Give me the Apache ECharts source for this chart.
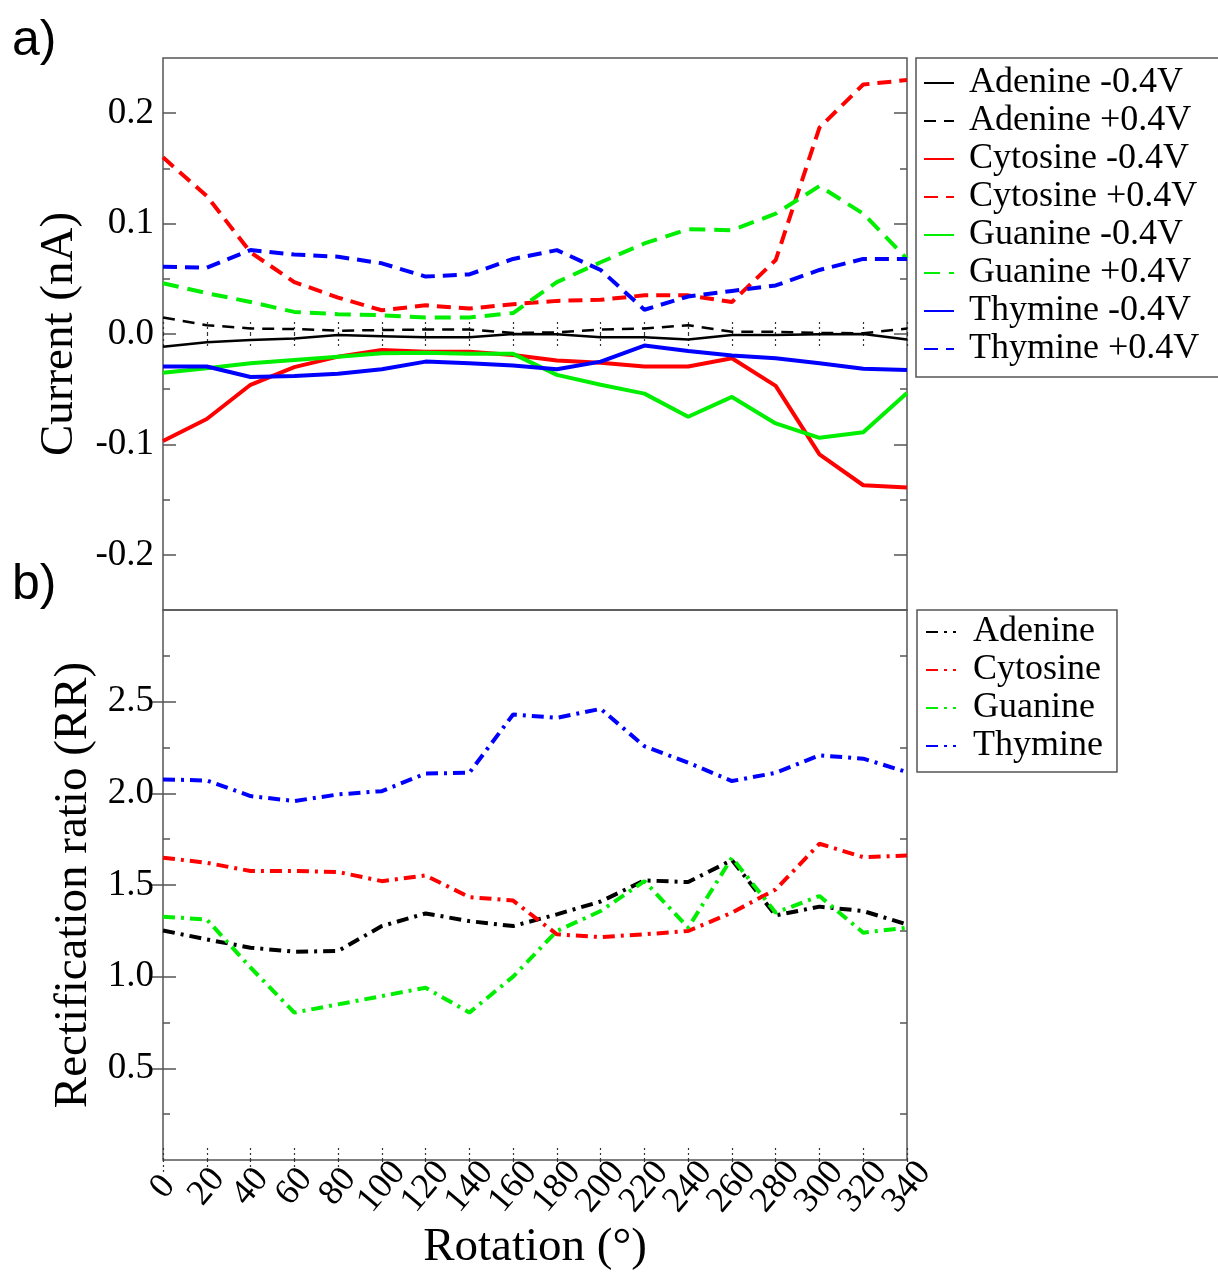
<!DOCTYPE html>
<html>
<head>
<meta charset="utf-8">
<script src="https://cdn.jsdelivr.net/npm/echarts@6/dist/echarts.min.js"></script>
<style>
  html, body { margin: 0; padding: 0; background: #fff; }
  #chart { width: 1218px; height: 1272px; }
</style>
</head>
<body>
<div id="chart"></div>
<script>
// ---- Data ----
const rotation = [0, 20, 40, 60, 80, 100, 120, 140, 160, 180, 200, 220, 240, 260, 280, 300, 320, 340];

// Panel a) Current (nA)
const adenineNeg  = [-0.0115, -0.0075, -0.0054, -0.004, -0.001, -0.002, -0.003, -0.003, 0.0, -0.0003, -0.003, -0.003, -0.005, -0.001, -0.001, -0.0003, 0.0, -0.005];
const adeninePos  = [0.015, 0.008, 0.005, 0.0045, 0.003, 0.0036, 0.004, 0.004, 0.001, 0.0015, 0.004, 0.005, 0.008, 0.002, 0.002, 0.001, 0.0006, 0.005];
const cytosineNeg = [-0.097, -0.077, -0.046, -0.030, -0.0205, -0.0145, -0.016, -0.016, -0.019, -0.024, -0.026, -0.0295, -0.0295, -0.022, -0.047, -0.109, -0.137, -0.139];
const cytosinePos = [0.160, 0.125, 0.074, 0.047, 0.033, 0.0215, 0.026, 0.023, 0.027, 0.030, 0.031, 0.035, 0.035, 0.029, 0.067, 0.187, 0.226, 0.230];
const guanineNeg  = [-0.035, -0.031, -0.0265, -0.0235, -0.0205, -0.0175, -0.017, -0.018, -0.018, -0.037, -0.046, -0.054, -0.075, -0.057, -0.081, -0.094, -0.089, -0.0535];
const guaninePos  = [0.046, 0.037, 0.029, 0.020, 0.018, 0.017, 0.015, 0.015, 0.019, 0.047, 0.065, 0.082, 0.095, 0.094, 0.109, 0.134, 0.109, 0.068];
const thymineNeg  = [-0.0295, -0.0295, -0.039, -0.038, -0.036, -0.032, -0.025, -0.0265, -0.0285, -0.032, -0.025, -0.0105, -0.0153, -0.0195, -0.022, -0.0265, -0.0315, -0.0325];
const thyminePos  = [0.061, 0.060, 0.076, 0.072, 0.070, 0.064, 0.052, 0.054, 0.068, 0.076, 0.058, 0.022, 0.034, 0.039, 0.044, 0.058, 0.068, 0.068];

// Panel b) Rectification ratio (RR)
const rrAdenine  = [1.252, 1.203, 1.158, 1.136, 1.140, 1.276, 1.345, 1.303, 1.276, 1.34, 1.41, 1.525, 1.516, 1.636, 1.334, 1.382, 1.358, 1.285];
const rrCytosine = [1.649, 1.621, 1.576, 1.576, 1.571, 1.521, 1.552, 1.434, 1.415, 1.231, 1.216, 1.231, 1.249, 1.349, 1.476, 1.725, 1.652, 1.661];
const rrGuanine  = [1.327, 1.312, 1.05, 0.804, 0.849, 0.894, 0.940, 0.804, 1.0, 1.249, 1.358, 1.521, 1.267, 1.649, 1.349, 1.440, 1.240, 1.267];
const rrThymine  = [2.076, 2.070, 1.985, 1.958, 1.994, 2.012, 2.108, 2.112, 2.430, 2.412, 2.461, 2.257, 2.167, 2.067, 2.112, 2.207, 2.189, 2.116];

// Tick values
const xTickLabels = [0, 20, 40, 60, 80, 100, 120, 140, 160, 180, 200, 220, 240, 260, 280, 300, 320, 340];
const topMajorTicks = [-0.2, -0.1, 0.0, 0.1, 0.2];
const topMinorTicks = [-0.15, -0.05, 0.05, 0.15];
const botMajorTicks = [0.5, 1.0, 1.5, 2.0, 2.5];
const botMinorTicks = [0.25, 0.75, 1.25, 1.75, 2.25, 2.75];

// ---- Chart ----
const FONT = 'Liberation Serif';
const FRAME = '#555';
const pairs = (vals) => rotation.map((r, i) => [r, vals[i]]);
// labels overlap in the original; split into two interleaved sets so ECharts keeps them all
const xLabelsEven = xTickLabels.filter((v, i) => i % 2 === 0);
const xLabelsOdd  = xTickLabels.filter((v, i) => i % 2 === 1);

function xAxisDef(gridIndex, position, labelValues, withTicks, withName) {
  return {
    type: 'value', gridIndex, position, min: 0, max: 340, interval: 20,
    axisLine: { show: false },
    splitLine: { show: false },
    axisTick: { show: withTicks, inside: true, length: 12, lineStyle: { color: '#333', type: [2, 3], width: 1.2 } },
    axisLabel: labelValues ? {
      show: true, customValues: labelValues, rotate: 50, align: 'center', verticalAlign: 'middle', margin: 27,
      showMinLabel: true, showMaxLabel: true, hideOverlap: false,
      fontFamily: FONT, fontSize: 36, color: '#000'
    } : { show: false },
    name: withName ? 'Rotation (°)' : '',
    nameLocation: 'middle', nameGap: 64,
    nameTextStyle: { fontFamily: FONT, fontSize: 47, color: '#000', verticalAlign: 'top' }
  };
}

function yAxisDef(gridIndex, position, min, max, ticks, len, labels, name, nameGap) {
  return {
    type: 'value', gridIndex, position, min, max,
    axisLine: { show: false },
    splitLine: { show: false },
    axisTick: { show: true, inside: true, length: len, customValues: ticks, lineStyle: { color: FRAME, width: 1.5 } },
    axisLabel: labels ? {
      show: true, customValues: ticks, margin: 9, fontFamily: FONT, fontSize: 37, color: '#000',
      formatter: (v) => Number(v).toFixed(1)
    } : { show: false },
    name: name || '',
    nameLocation: 'middle', nameGap: nameGap || 0,
    nameTextStyle: { fontFamily: FONT, fontSize: 47, color: '#000' }
  };
}

const dashed = [14, 8];
const dashDot = [12, 6, 3, 6];

function lineSeries(name, data, color, type, width, xi, yi) {
  return {
    name, type: 'line', data: pairs(data), xAxisIndex: xi, yAxisIndex: yi,
    symbol: 'none', showSymbol: false, smooth: false, animation: false,
    lineStyle: { color, type, width },
    itemStyle: { color }
  };
}

const topNames = ['Adenine -0.4V', 'Adenine +0.4V', 'Cytosine -0.4V', 'Cytosine +0.4V',
                  'Guanine -0.4V', 'Guanine +0.4V', 'Thymine -0.4V', 'Thymine +0.4V'];
const botNames = ['Adenine', 'Cytosine', 'Guanine', 'Thymine'];

const option = {
  backgroundColor: '#fff',
  animation: false,
  grid: [
    { left: 163, top: 58, width: 744, height: 552, show: true, borderColor: FRAME, borderWidth: 1.5, backgroundColor: 'transparent' },
    { left: 163, top: 610, width: 744, height: 550, show: true, borderColor: FRAME, borderWidth: 1.5, backgroundColor: 'transparent' }
  ],
  xAxis: [
    xAxisDef(0, 'bottom', null, true, false),
    xAxisDef(0, 'top', null, true, false),
    xAxisDef(1, 'top', null, true, false),
    xAxisDef(1, 'bottom', xLabelsEven, true, true),
    xAxisDef(1, 'bottom', xLabelsOdd, false, false)
  ],
  yAxis: [
    yAxisDef(0, 'left', -0.25, 0.25, topMajorTicks, 13, true, 'Current (nA)', 80),
    yAxisDef(0, 'left', -0.25, 0.25, topMinorTicks, 7, false),
    yAxisDef(0, 'right', -0.25, 0.25, topMajorTicks, 13, false),
    yAxisDef(0, 'right', -0.25, 0.25, topMinorTicks, 7, false),
    yAxisDef(1, 'left', 0, 3, botMajorTicks, 13, true, 'Rectification ratio (RR)', 66),
    yAxisDef(1, 'left', 0, 3, botMinorTicks, 7, false),
    yAxisDef(1, 'right', 0, 3, botMajorTicks, 13, false),
    yAxisDef(1, 'right', 0, 3, botMinorTicks, 7, false)
  ],
  legend: [
    {
      data: topNames, orient: 'vertical', left: 916, top: 58,
      padding: [6, 40, 9, 7], itemGap: 0, itemWidth: 30, itemHeight: 14,
      borderColor: FRAME, borderWidth: 1.5, backgroundColor: '#fff',
      selectedMode: false,
      itemStyle: { opacity: 0 },
      textStyle: { fontFamily: FONT, fontSize: 36, color: '#000', lineHeight: 38, padding: [0, 0, 0, 10] }
    },
    {
      data: botNames, orient: 'vertical', left: 917, top: 610,
      padding: [3, 14, 7, 8], itemGap: 0, itemWidth: 30, itemHeight: 14,
      borderColor: FRAME, borderWidth: 1.5, backgroundColor: '#fff',
      selectedMode: false,
      itemStyle: { opacity: 0 },
      textStyle: { fontFamily: FONT, fontSize: 36, color: '#000', lineHeight: 38, padding: [0, 0, 0, 12] }
    }
  ],
  graphic: [
    { type: 'text', left: 12, top: 16, style: { text: 'a)', font: '50px "Liberation Sans"', fill: '#000' } },
    { type: 'text', left: 12, top: 560, style: { text: 'b)', font: '50px "Liberation Sans"', fill: '#000' } }
  ],
  series: [
    lineSeries('Adenine -0.4V', adenineNeg, '#000000', 'solid', 2.5, 0, 0),
    lineSeries('Adenine +0.4V', adeninePos, '#000000', [12, 8], 2.5, 0, 0),
    lineSeries('Cytosine -0.4V', cytosineNeg, '#ff0000', 'solid', 4, 0, 0),
    lineSeries('Cytosine +0.4V', cytosinePos, '#ff0000', dashed, 4, 0, 0),
    lineSeries('Guanine -0.4V', guanineNeg, '#00ee00', 'solid', 4, 0, 0),
    lineSeries('Guanine +0.4V', guaninePos, '#00ee00', [16, 9], 4, 0, 0),
    lineSeries('Thymine -0.4V', thymineNeg, '#0000ff', 'solid', 4, 0, 0),
    lineSeries('Thymine +0.4V', thyminePos, '#0000ff', dashed, 4, 0, 0),
    lineSeries('Adenine', rrAdenine, '#000000', dashDot, 4, 3, 4),
    lineSeries('Cytosine', rrCytosine, '#ff0000', dashDot, 4, 3, 4),
    lineSeries('Guanine', rrGuanine, '#00ee00', dashDot, 4, 3, 4),
    lineSeries('Thymine', rrThymine, '#0000ff', dashDot, 4, 3, 4)
  ]
};

const chart = echarts.init(document.getElementById('chart'), null, { renderer: 'canvas' });
chart.setOption(option);
</script>
</body>
</html>
